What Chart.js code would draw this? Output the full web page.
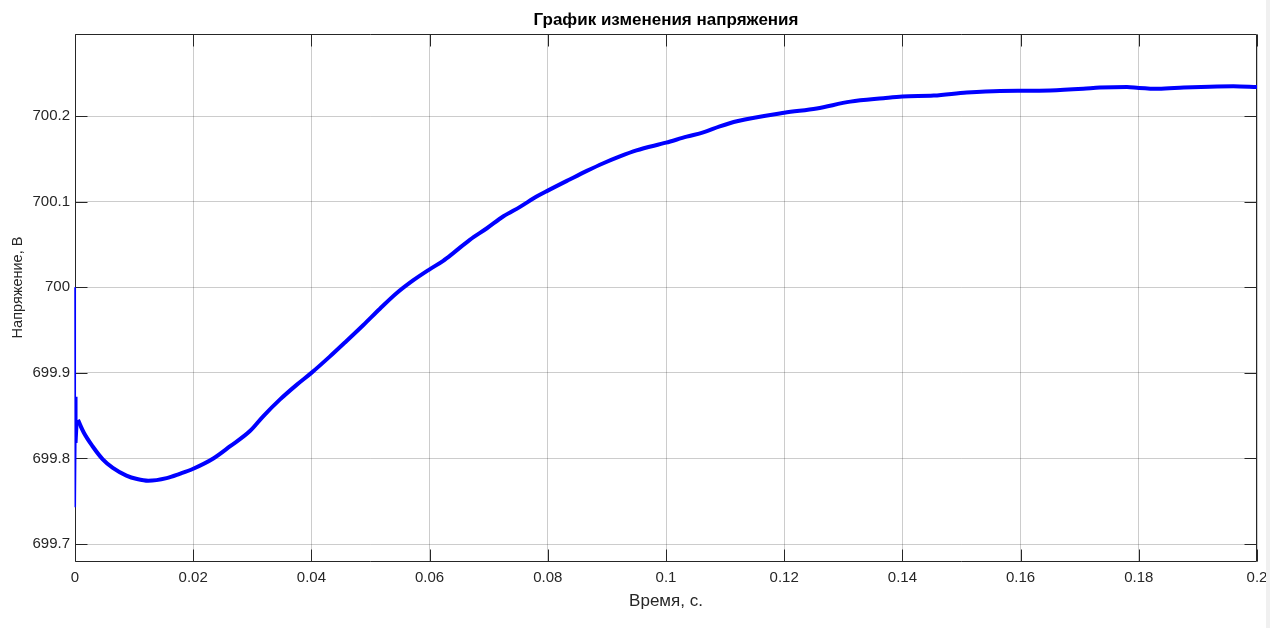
<!DOCTYPE html>
<html>
<head>
<meta charset="utf-8">
<script src="https://cdn.jsdelivr.net/npm/chart.js@4/dist/chart.umd.min.js"></script>
<style>
  html, body { margin: 0; padding: 0; background: #ffffff; }
  #wrap { position: relative; width: 1284px; height: 628px; }
  #stripe { position: absolute; left: 1266px; top: 0; width: 4px; height: 628px; background: #f0f0f0; }
</style>
</head>
<body>
<div id="wrap">
  <canvas id="c" width="1284" height="628"></canvas>
  <div id="stripe"></div>
</div>
<script>
// ---- data ----
const titleText = 'График изменения напряжения';
const xAxisTitle = 'Время, с.';
const yAxisTitle = 'Напряжение, В';

// initial switching transient (thin spike)
const spikeTime = [0, 0.00005, 0.0002, 0.0003, 0.0005];
const spikeVolt = [700.0, 699.743, 699.872, 699.818, 699.845];

// main voltage trace
const timeS = [0.0005, 0.0015, 0.003, 0.0047, 0.0064, 0.0087, 0.0105, 0.0124, 0.0155, 0.0177,
  0.02, 0.0234, 0.0262, 0.0296, 0.0318, 0.0347, 0.0375, 0.04, 0.0431, 0.0459,
  0.0488, 0.0516, 0.0544, 0.0572, 0.06, 0.0623, 0.064, 0.0668, 0.0697, 0.0725,
  0.0753, 0.0781, 0.08, 0.0837, 0.0866, 0.0894, 0.0922, 0.095, 0.1, 0.1035,
  0.1063, 0.1091, 0.112, 0.12, 0.1255, 0.1312, 0.1368, 0.14, 0.1453, 0.1509,
  0.1565, 0.16, 0.165, 0.1706, 0.1734, 0.178, 0.18, 0.1833, 0.1876, 0.192, 0.196, 0.2];
const voltV = [699.845, 699.830, 699.814, 699.799, 699.789, 699.780, 699.776, 699.774, 699.777, 699.782,
  699.788, 699.800, 699.814, 699.832, 699.849, 699.869, 699.886, 699.900, 699.919, 699.937,
  699.956, 699.975, 699.993, 700.008, 700.021, 700.031, 700.040, 700.0555, 700.069, 700.083,
  700.094, 700.106, 700.113, 700.126, 700.136, 700.145, 700.153, 700.160, 700.169, 700.176,
  700.181, 700.188, 700.194, 700.204, 700.209, 700.217, 700.221, 700.223, 700.224, 700.2276,
  700.2295, 700.2296, 700.230, 700.232, 700.2334, 700.2342, 700.233, 700.232, 700.2334, 700.2345, 700.2350, 700.234];

const xTickValues = [0, 0.02, 0.04, 0.06, 0.08, 0.1, 0.12, 0.14, 0.16, 0.18, 0.2];
const xTickLabels = ['0', '0.02', '0.04', '0.06', '0.08', '0.1', '0.12', '0.14', '0.16', '0.18', '0.2'];
const yTickValues = [699.7, 699.8, 699.9, 700.0, 700.1, 700.2];
const yTickLabels = ['699.7', '699.8', '699.9', '700', '700.1', '700.2'];
const xLimits = [0, 0.2];
const yLimits = [699.679, 700.296];

// ---- chart ----
const textColor = '#262626';
const fontFamily = '"Liberation Sans", Arial, Helvetica, sans-serif';

const boxPlugin = {
  id: 'boxTicks',
  beforeDatasetsDraw(chart) {
    const {ctx, chartArea: a, scales} = chart;
    ctx.save();
    ctx.strokeStyle = textColor;
    ctx.lineWidth = 1;
    const L = Math.round(a.left) + 0.5, R = Math.round(a.right) - 0.5;
    const T = Math.round(a.top) + 0.5, B = Math.round(a.bottom) - 0.5;
    ctx.beginPath();
    ctx.rect(L, T, R - L, B - T);
    const len = 12;
    xTickValues.forEach(v => {
      const x = Math.round(scales.x.getPixelForValue(v)) + 0.5;
      ctx.moveTo(x, B); ctx.lineTo(x, B - len);
      ctx.moveTo(x, T); ctx.lineTo(x, T + len);
    });
    yTickValues.forEach(v => {
      const y = Math.round(scales.y.getPixelForValue(v)) + 0.5;
      ctx.moveTo(L, y); ctx.lineTo(L + len, y);
      ctx.moveTo(R, y); ctx.lineTo(R - len, y);
    });
    ctx.stroke();
    ctx.restore();
  },
  afterDraw(chart) {
    const {ctx, chartArea: a} = chart;
    const cx = (a.left + a.right) / 2;
    ctx.save();
    ctx.textAlign = 'center';
    ctx.textBaseline = 'middle';
    ctx.fillStyle = '#000000';
    ctx.font = 'bold 17px ' + fontFamily;
    ctx.fillText(titleText, cx, 20);
    ctx.fillStyle = textColor;
    ctx.font = '17px ' + fontFamily;
    ctx.fillText(xAxisTitle, cx, 601);
    ctx.translate(18, 287.5);
    ctx.rotate(-Math.PI / 2);
    ctx.font = '14.5px ' + fontFamily;
    ctx.fillText(yAxisTitle, 0, 0);
    ctx.restore();
  }
};

new Chart(document.getElementById('c'), {
  type: 'line',
  data: {
    datasets: [
      {
        data: spikeTime.map((t, i) => ({x: t, y: spikeVolt[i]})),
        borderColor: '#0000ff',
        borderWidth: 1.5,
        pointRadius: 0,
        tension: 0,
        clip: 6
      },
      {
        data: timeS.map((t, i) => ({x: t, y: voltV[i]})),
        borderColor: '#0000ff',
        borderWidth: 4,
        pointRadius: 0,
        cubicInterpolationMode: 'monotone'
      }
    ]
  },
  options: {
    responsive: false,
    animation: false,
    devicePixelRatio: 1,
    layout: { padding: { left: 0, right: 27, top: 34, bottom: 0 } },
    plugins: {
      legend: { display: false },
      tooltip: { enabled: false },
      title: { display: false }
    },
    scales: {
      x: {
        type: 'linear',
        min: xLimits[0],
        max: xLimits[1],
        afterBuildTicks: s => { s.ticks = xTickValues.map(v => ({value: v})); },
        afterFit: s => { s.height = 66; },
        ticks: {
          color: textColor,
          font: { family: fontFamily, size: 15 },
          padding: 7,
          maxRotation: 0,
          autoSkip: false,
          callback: (v, i) => xTickLabels[i]
        },
        grid: { color: 'rgba(0,0,0,0.2)', lineWidth: 1, drawTicks: false },
        border: { display: false }
      },
      y: {
        type: 'linear',
        min: yLimits[0],
        max: yLimits[1],
        afterBuildTicks: s => { s.ticks = yTickValues.map(v => ({value: v})); },
        afterFit: s => { s.width = 75; },
        ticks: {
          color: textColor,
          font: { family: fontFamily, size: 15 },
          padding: 5,
          autoSkip: false,
          callback: (v, i) => yTickLabels[i]
        },
        grid: { color: 'rgba(0,0,0,0.2)', lineWidth: 1, drawTicks: false },
        border: { display: false }
      }
    }
  },
  plugins: [boxPlugin]
});
</script>
</body>
</html>
